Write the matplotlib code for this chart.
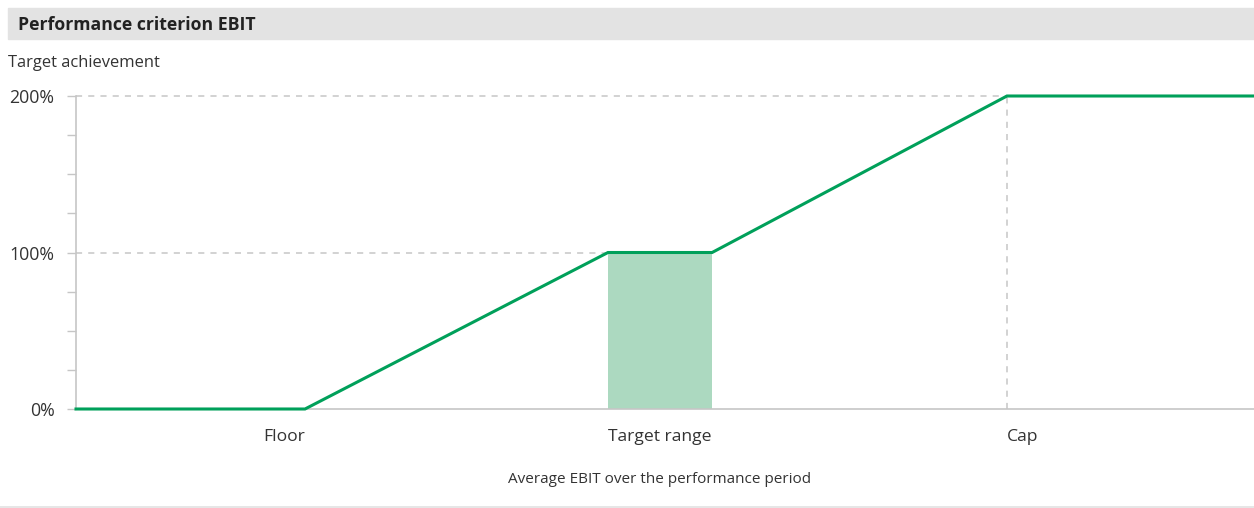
import matplotlib.pyplot as plt
from matplotlib.patches import Rectangle
from matplotlib.lines import Line2D

plt.rcParams['font.family'] = ['Open Sans', 'DejaVu Sans']

# payout curve (x in % of axis width, y = target achievement %)
curve_x = [0, 19.44, 45.16, 54.0, 79.03, 100]
curve_y = [0, 0, 100, 100, 200, 200]

target_range = (45.16, 54.0)
target_level = 100

floor_x = 19.44
cap_x = 79.03
cap_level = 200

y_ticks = [0, 100, 200]
y_labels = ['0%', '100%', '200%']
y_minor = [25, 50, 75, 125, 150, 175]

green = '#00a05a'
fill_green = '#acd9c0'
grey = '#c6c6c6'
text_col = '#333333'

fig = plt.figure(figsize=(12.54, 5.08), dpi=100)

# header band
fig.patches.append(Rectangle((8 / 1254, 469 / 508), 1 - 8 / 1254, 31 / 508,
                             transform=fig.transFigure, color='#e3e3e3', zorder=0))
fig.text(18 / 1254, 483 / 508, 'Performance criterion EBIT', fontsize=12.7,
         fontweight='bold', color='#222222', va='center', ha='left')
fig.text(8 / 1254, 445 / 508, 'Target achievement', fontsize=11.9,
         color=text_col, va='center', ha='left')
fig.lines.append(Line2D([0, 1], [1.5 / 508, 1.5 / 508], transform=fig.transFigure,
                        color='#e2e2e2', lw=1.2))

ax = fig.add_axes([76 / 1254, 99 / 508, 1 - 76 / 1254, 313 / 508])
ax.set_xlim(0, 100)
ax.set_ylim(0, 200)

# target range box
ax.fill_between(target_range, 0, target_level, color=fill_green, lw=0, zorder=1)

# reference dashes
ax.plot([0, target_range[0]], [target_level, target_level], ls=(0, (4, 4)),
        color=grey, lw=1.1, zorder=0)
ax.plot([0, cap_x], [cap_level, cap_level], ls=(0, (4, 4)),
        color=grey, lw=1.1, zorder=0, clip_on=False)
ax.plot([cap_x, cap_x], [0, cap_level], ls=(0, (4, 4)),
        color=grey, lw=1.1, zorder=0)

ax.plot(curve_x, curve_y, color=green, lw=2.2, zorder=3, clip_on=False,
        solid_joinstyle='miter')

for s in ['top', 'right']:
    ax.spines[s].set_visible(False)
for s in ['left', 'bottom']:
    ax.spines[s].set_color(grey)
    ax.spines[s].set_linewidth(1.2)

ax.set_yticks(y_ticks)
ax.set_yticklabels(y_labels)
ax.set_yticks(y_minor, minor=True)
ax.tick_params(axis='y', which='both', length=6.5, width=1, color=grey,
               labelsize=12.8, labelcolor=text_col, pad=9)
ax.set_xticks([])

ax.text(floor_x, -13, 'Floor', ha='right', va='top', fontsize=12.6, color=text_col)
ax.text(sum(target_range) / 2, -13, 'Target range', ha='center', va='top',
        fontsize=12.6, color=text_col)
ax.text(cap_x, -13, 'Cap', ha='left', va='top', fontsize=12.6, color=text_col)
ax.text(sum(target_range) / 2, -40, 'Average EBIT over the performance period',
        ha='center', va='top', fontsize=11, color=text_col)

fig.savefig('out.png', dpi=100)
